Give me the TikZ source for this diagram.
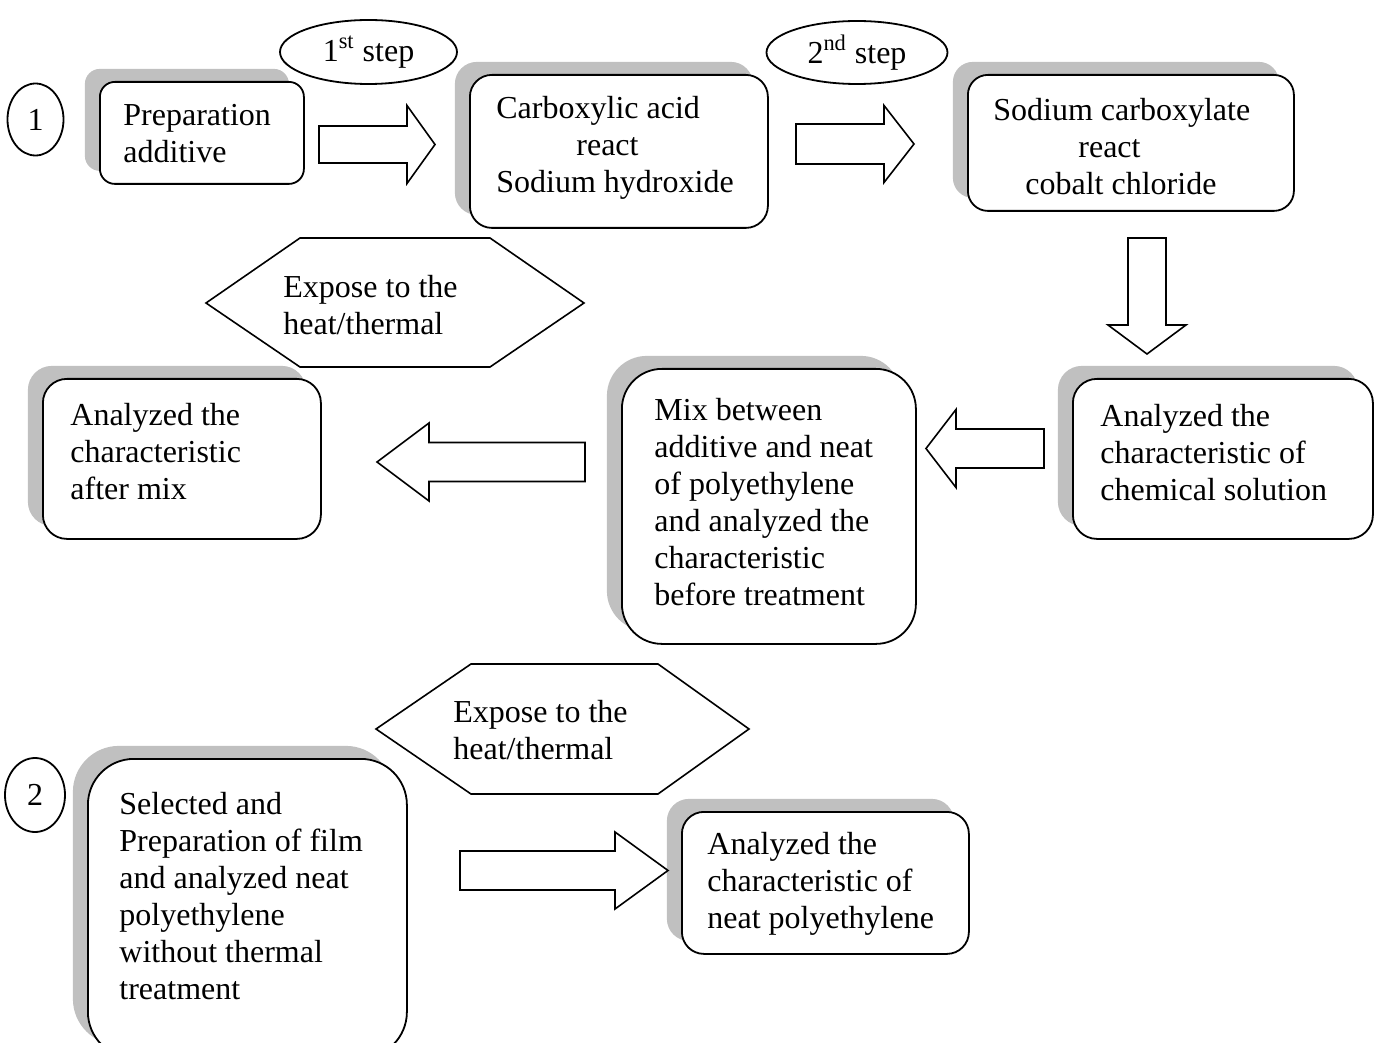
\documentclass[tikz,border=0pt]{standalone}
\usepackage{fontspec}
\setmainfont{Liberation Serif}
\usetikzlibrary{shapes.geometric,shadows}
\definecolor{shadowgray}{RGB}{192,192,192}
\tikzset{
  stepbox/.style={draw, line width=0.9pt, fill=white, rounded corners=#1, inner sep=0pt,
    anchor=north west,
    general shadow={fill=shadowgray, shadow xshift=-7.5pt, shadow yshift=6.5pt}},
  txt/.style={anchor=west, align=left, inner sep=0pt, font=\fontsize{16pt}{18.5pt}\selectfont},
  oval/.style={draw, ellipse, line width=0.9pt, inner sep=0pt, font=\fontsize{16pt}{18.5pt}\selectfont},
  barrow/.style={draw, line width=0.8pt, fill=white, line join=miter},
  hexa/.style={draw, line width=0.8pt, fill=white, line join=miter}
}
\newcommand\blockarrow[6]{%
  \draw[barrow, shift={(#1)}, rotate=#2] (0,#4) -- ({#3-#6},#4) -- ({#3-#6},#5) -- (#3,0)
    -- ({#3-#6},-#5) -- ({#3-#6},-#4) -- (0,-#4) -- cycle;}
\begin{document}
\begin{tikzpicture}[x=0.5pt, y=-0.5pt]
\useasboundingbox (0,0) rectangle (1377,1043);
\clip (0,0) rectangle (1377,1043);
\fill[white] (0,0) rectangle (1377,1043);

% numbered circles
\node[oval, minimum width=28pt, minimum height=36pt] (c1) at (35.5,119.5) {1};
\node[oval, minimum width=30pt, minimum height=37pt] (c2) at (35,795) {2};

% step ellipses
\node[oval, minimum width=88.5pt, minimum height=32pt] (e1) at (368.5,52) {1\textsuperscript{st} step};
\node[oval, minimum width=90.5pt, minimum height=31.5pt] (e2) at (857,52.5) {2\textsuperscript{nd} step};

% boxes
\node[stepbox=7.5pt, minimum width=102pt, minimum height=51pt] (prep) at (99,81) {};
\node[txt] (prept) at (123,133.5) {Preparation\\additive};

\node[stepbox=11pt, minimum width=149pt, minimum height=76.5pt] (carb) at (469,74) {};
\node[txt] (carbt) at (496,148) {Carboxylic acid\\\hspace*{40pt}react\\Sodium hydroxide};

\node[stepbox=10pt, minimum width=163pt, minimum height=68pt] (sodc) at (967,74) {};
\node[txt] (sodct) at (993,146.5) {Sodium carboxylate\\\hspace*{42.5pt}react\\\hspace*{16pt}cobalt chloride};

\node[stepbox=12pt, minimum width=150pt, minimum height=80pt] (chem) at (1072,378) {};
\node[txt] (chemt) at (1100,452.5) {Analyzed the\\characteristic of\\chemical solution};

\node[stepbox=20pt, minimum width=147pt, minimum height=137.5pt] (mix) at (621,368) {};
\node[txt] (mixt) at (654,502.5) {Mix between\\additive and neat\\of polyethylene\\and analyzed the\\characteristic\\before treatment};

\node[stepbox=12pt, minimum width=139pt, minimum height=80pt] (after) at (42,378) {};
\node[txt] (aftert) at (70,451.5) {Analyzed the\\characteristic\\after mix};

\node[stepbox=23pt, minimum width=159.5pt, minimum height=149.5pt] (sel) at (87,758) {};
\node[txt] (selt) at (119,896) {Selected and\\Preparation of film\\and analyzed neat\\polyethylene\\without thermal\\treatment};

\node[stepbox=11pt, minimum width=143.5pt, minimum height=71pt] (neat) at (681,811) {};
\node[txt] (neatt) at (707,884) {Analyzed the\\characteristic of\\neat polyethylene};

% hexagons
\draw[hexa] (206,303) -- (300,238) -- (490,238) -- (584,303) -- (490,367) -- (300,367) -- cycle;
\node[txt] (hex1) at (283,305) {Expose to the\\heat/thermal};
\draw[hexa] (376,729) -- (471,664) -- (658,664) -- (749,729) -- (658,794) -- (471,794) -- cycle;
\node[txt] (hex2) at (453,730) {Expose to the\\heat/thermal};

% block arrows (tail coordinates)
\coordinate (a1) at (319,144.5);
\coordinate (a2) at (796,144);
\coordinate (a3) at (1147,238);
\coordinate (a4) at (1044,448.5);
\coordinate (a5) at (585,462);
\coordinate (a6) at (460,870.5);
\blockarrow{a1}{0}{116}{18.5}{39}{28}
\blockarrow{a2}{0}{118}{20}{38.5}{30}
\blockarrow{a3}{-90}{116}{19}{39}{29}
\blockarrow{a4}{180}{118}{19.5}{39}{30}
\blockarrow{a5}{180}{208}{19.5}{39}{52}
\blockarrow{a6}{0}{208}{19.5}{38.5}{53}
\end{tikzpicture}
\end{document}
